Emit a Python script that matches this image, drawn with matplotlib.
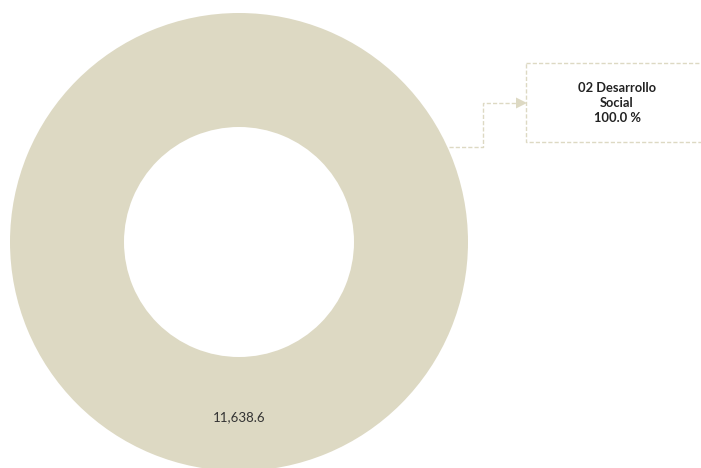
import matplotlib.pyplot as plt
from matplotlib.patches import Rectangle, Polygon

# data
categories = ['02 Desarrollo Social']
values = [11638.6]
colors = ['#DDD9C3']

plt.rcParams['font.family'] = ['Lato', 'DejaVu Sans']

fig = plt.figure(figsize=(7.01, 4.68), dpi=100)
ax = fig.add_axes([0, 0, 1, 1])
ax.set_xlim(0, 701)
ax.set_ylim(468, 0)
ax.set_aspect('equal')
ax.axis('off')

total = sum(values)
wedges, texts, autotexts = ax.pie(
    values, colors=colors, radius=229, center=(239, 242),
    startangle=-90, counterclock=True,
    wedgeprops=dict(width=114, linewidth=0),
    autopct=lambda p: f'{p * total / 100:,.1f}', pctdistance=0.765,
    textprops=dict(fontsize=9.5, color='#333333'))
ax.set_xlim(0, 701)
ax.set_ylim(468, 0)

# callout box
line_col = '#DDD9C3'
ax.add_patch(Rectangle((525.5, 62.5), 220, 79, fill=False, edgecolor=line_col,
                       linestyle=(0, (3, 1.5)), linewidth=1, clip_on=True))
ax.plot([449, 483, 483, 516], [147, 147, 103, 103], color=line_col,
        linestyle=(0, (3, 1.5)), linewidth=1)
ax.add_patch(Polygon([[516, 97.5], [527, 103], [516, 108.5]], closed=True,
                     facecolor=line_col, edgecolor='none'))

for cat, v in zip(categories, values):
    words = cat.split(' ')
    label = ' '.join(words[:2]) + '\n' + ' '.join(words[2:]) + f'\n{v / total * 100:.1f} %'
    ax.text(617, 103, label, ha='center', va='center', fontsize=9.3,
            fontweight='bold', color='#222222', linespacing=1.25)

fig.savefig('out.png', dpi=100)
